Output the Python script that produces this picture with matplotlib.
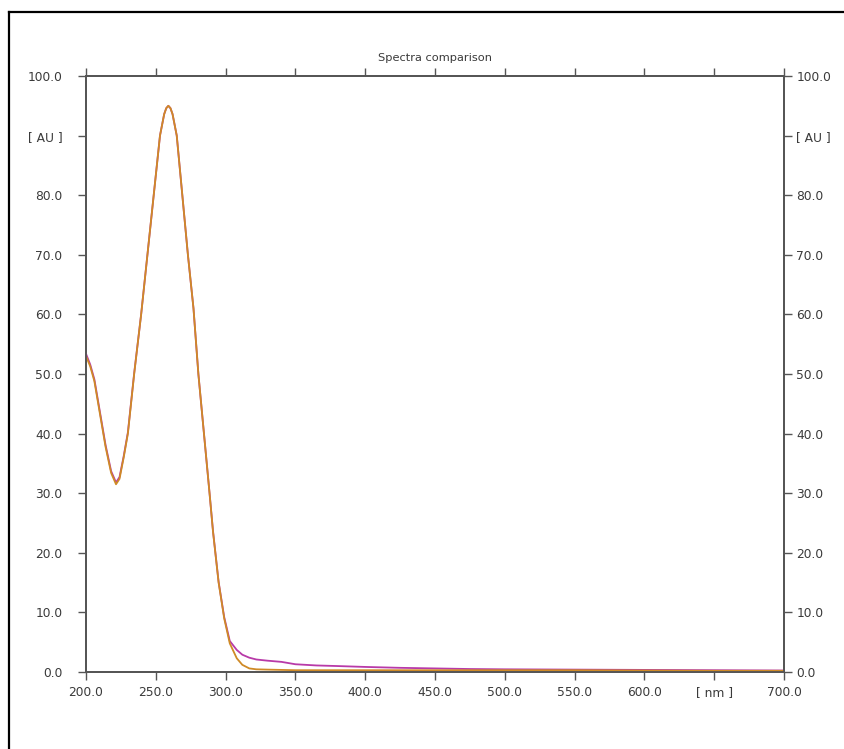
import matplotlib
matplotlib.use("Agg")
import matplotlib.pyplot as plt
from matplotlib.lines import Line2D

# ---- data ----
wavelength = [200, 203, 206, 210, 214, 218, 221.5, 224, 227, 230, 234.5, 239.5,
              244, 248.5, 253, 256, 257.5, 259, 260.5, 262, 265, 269, 273, 277,
              280.5, 284.5, 288.5, 291, 295, 299, 303, 308, 312, 317, 322, 330,
              340, 350, 365, 380, 400, 425, 450, 475, 500, 550, 600, 650, 700]
spectrum_orange = [53.0, 51.3, 48.8, 43.3, 37.8, 33.4, 31.5, 32.4, 36.0, 40.0,
                   50.0, 60.0, 70.0, 80.0, 90.0, 93.6, 94.6, 95.0, 94.6, 93.6,
                   90.0, 80.0, 70.0, 61.0, 50.0, 40.0, 30.0, 23.5, 15.0, 9.0,
                   4.8, 2.3, 1.2, 0.6, 0.45, 0.4, 0.35, 0.3, 0.3, 0.3, 0.3, 0.3,
                   0.3, 0.3, 0.3, 0.3, 0.25, 0.2, 0.2]
spectrum_magenta = [53.4, 51.6, 49.1, 43.6, 38.1, 33.7, 31.8, 32.7, 36.2, 40.2,
                    50.1, 60.0, 70.0, 80.0, 90.0, 93.6, 94.6, 95.0, 94.6, 93.6,
                    90.0, 80.0, 70.0, 61.0, 50.0, 40.0, 30.0, 23.6, 15.1, 9.2,
                    5.2, 3.7, 2.9, 2.4, 2.1, 1.9, 1.7, 1.3, 1.1, 1.0, 0.85, 0.7,
                    0.6, 0.5, 0.45, 0.4, 0.35, 0.3, 0.25]

x_ticks = [200, 250, 300, 350, 400, 450, 500, 550, 600, 650, 700]
x_labels = ["200.0", "250.0", "300.0", "350.0", "400.0", "450.0", "500.0",
            "550.0", "600.0", "[ nm ]", "700.0"]
y_ticks = [0, 10, 20, 30, 40, 50, 60, 70, 80, 90, 100]
y_labels = ["0.0", "10.0", "20.0", "30.0", "40.0", "50.0", "60.0", "70.0",
            "80.0", "[ AU ]", "100.0"]
title = "Spectra comparison"

# ---- figure ----
W, H = 845, 749
fig = plt.figure(figsize=(W / 100, H / 100), dpi=100)
fig.patch.set_facecolor("white")

# outer frame (left and top edges visible)
fig.add_artist(Line2D([9 / W, 9 / W], [0, 1 - 12 / H], transform=fig.transFigure,
                      color="black", lw=1.6))
fig.add_artist(Line2D([9 / W, 1], [1 - 12 / H, 1 - 12 / H], transform=fig.transFigure,
                      color="black", lw=1.6))

left, right, top, bottom = 86 / W, 784 / W, 76 / H, 672 / H
ax = fig.add_axes([left, 1 - bottom, right - left, bottom - top])

ax.plot(wavelength, spectrum_magenta, color="#b83aa8", lw=1.3, zorder=3)
ax.plot(wavelength, spectrum_orange, color="#cf8a26", lw=1.3, zorder=4)

ax.set_xlim(200, 700)
ax.set_ylim(0, 100)

spine_col = "#555555"
txt_col = "#3a3a3a"
fs = 8.8

ax.set_xticks(x_ticks)
ax.set_xticklabels(x_labels)
ax.set_yticks(y_ticks)
ax.set_yticklabels(y_labels)
ax.tick_params(axis="both", direction="out", length=6, width=1.0,
               color=spine_col, labelsize=fs, labelcolor=txt_col)
ax.tick_params(axis="y", left=True, right=False, labelleft=True, labelright=False, pad=11)
ax.tick_params(axis="x", top=True, bottom=True, labeltop=False, labelbottom=True, pad=4)

# right-hand axis with its own label spacing
axr = ax.twinx()
axr.set_ylim(0, 100)
axr.set_yticks(y_ticks)
axr.set_yticklabels(y_labels)
axr.tick_params(axis="y", direction="out", length=6, width=1.0, color=spine_col,
                labelsize=fs, labelcolor=txt_col, pad=3)

for a in (ax, axr):
    for s in a.spines.values():
        s.set_color(spine_col)
        s.set_linewidth(1.3)

fig.text(0.5 * (left + right), 1 - 58 / H, title, ha="center", va="center",
         fontsize=8.2, color=txt_col)

fig.savefig("out.png", dpi=100, facecolor="white")
